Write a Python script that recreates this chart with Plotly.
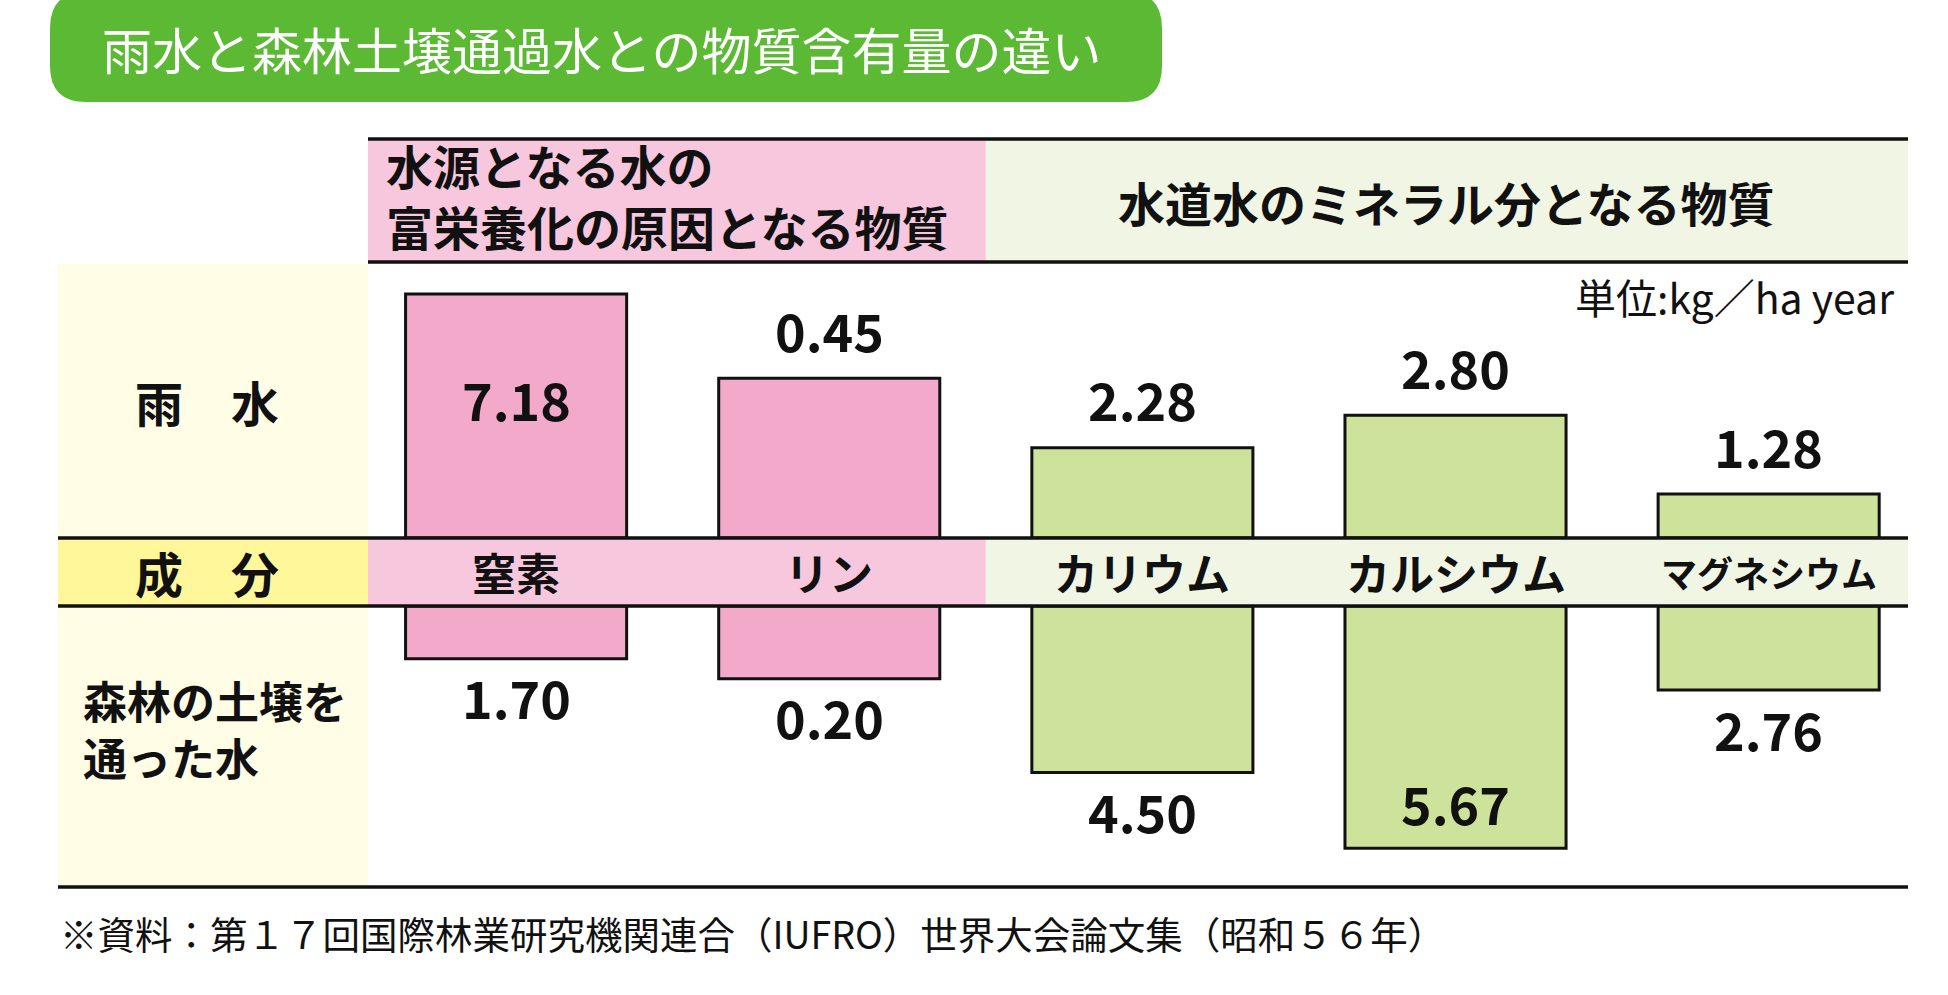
import plotly.graph_objects as go

# 単位: kg/ha year
components = ['窒素', 'リン', 'カリウム', 'カルシウム', 'マグネシウム']
rain = [7.18, 0.45, 2.28, 2.80, 1.28]      # 雨水
forest = [1.70, 0.20, 4.50, 5.67, 2.76]    # 森林の土壌を通った水
group_of = [0, 0, 1, 1, 1]
group_names = ['水源となる水の<br>富栄養化の原因となる物質', '水道水のミネラル分となる物質']

title = '雨水と森林土壌通過水との物質含有量の違い'
unit = '単位:kg／ha year'
source = '※資料：第１７回国際林業研究機関連合（IUFRO）世界大会論文集（昭和５６年）'
row_rain = '雨　水'
row_comp = '成　分'
row_forest = '森林の土壌を<br>通った水'

W, H = 1948, 995
FONT = 'Noto Sans CJK JP'
bar_colors = ['#f2a9ca', '#cde29b']
band_colors = ['#f7c7dd', '#f0f5e4']
LINE = '#111111'


def px(x):
    return x / W


def py(y):
    return 1 - y / H


def rounded_rect(x0, y0, x1, y1, r):
    pts = [('M', x0 + r, y0), ('L', x1 - r, y0), ('Q', x1, y0, x1, y0 + r),
           ('L', x1, y1 - r), ('Q', x1, y1, x1 - r, y1), ('L', x0 + r, y1),
           ('Q', x0, y1, x0, y1 - r), ('L', x0, y0 + r), ('Q', x0, y0, x0 + r, y0)]
    out = []
    for p in pts:
        cmd, coords = p[0], p[1:]
        xy = []
        for j in range(0, len(coords), 2):
            xy.append(f'{px(coords[j]):.5f},{py(coords[j + 1]):.5f}')
        out.append(cmd + ' ' + ' '.join(xy))
    return ' '.join(out) + ' Z'


# 軸設定（各成分ごとに縦の縮尺が違う）
X_RANGE = [-0.473, 4.445]
x_dom = [px(368), px(1908)]
top_dom = [py(538), py(261)]
bot_dom = [py(887), py(606)]
rain_axis_max = [8.15, 0.78, 6.99, 6.32, 8.06]
forest_axis_max = [9.07, 0.773, 7.60, 6.58, 9.23]

fig = go.Figure()
for i, name in enumerate(components):
    col = bar_colors[group_of[i]]
    fig.add_trace(go.Bar(
        x=[name], y=[rain[i]], xaxis='x', yaxis='y' if i == 0 else f'y{i + 1}',
        width=0.706, marker=dict(color=col, line=dict(color=LINE, width=3)),
        hoverinfo='skip'))
    fig.add_trace(go.Bar(
        x=[name], y=[forest[i]], xaxis='x2', yaxis=f'y{i + 6}',
        width=0.706, marker=dict(color=col, line=dict(color=LINE, width=3)),
        hoverinfo='skip'))

layout = dict(
    width=W, height=H, margin=dict(l=0, r=0, t=0, b=0),
    paper_bgcolor='white', plot_bgcolor='rgba(0,0,0,0)',
    showlegend=False, barmode='overlay',
    font=dict(family=FONT, color='#111111'),
)
xcommon = dict(domain=x_dom, range=X_RANGE, type='category', categoryorder='array',
               categoryarray=components, visible=False, fixedrange=True)
layout['xaxis'] = dict(xcommon, anchor='y')
layout['xaxis2'] = dict(xcommon, anchor='y6')
layout['yaxis'] = dict(domain=top_dom, range=[0, rain_axis_max[0]], visible=False,
                       anchor='x', fixedrange=True)
for k in range(2, 6):
    layout[f'yaxis{k}'] = dict(overlaying='y', range=[0, rain_axis_max[k - 1]],
                               visible=False, anchor='x', fixedrange=True)
layout['yaxis6'] = dict(domain=bot_dom, range=[forest_axis_max[0], 0], visible=False,
                        anchor='x2', fixedrange=True)
for k in range(7, 11):
    layout[f'yaxis{k}'] = dict(overlaying='y6', range=[forest_axis_max[k - 6], 0],
                               visible=False, anchor='x2', fixedrange=True)
fig.update_layout(layout)

# 背景・罫線
shapes = [
    dict(type='path', path=rounded_rect(50, -8, 1162, 102, 36), xref='paper', yref='paper',
         fillcolor='#5bb934', line=dict(width=0), layer='below'),
    dict(type='rect', xref='x', yref='paper', x0=X_RANGE[0], x1=1.5, y0=py(262), y1=py(139),
         fillcolor=band_colors[0], line=dict(width=0), layer='below'),
    dict(type='rect', xref='x', yref='paper', x0=1.5, x1=X_RANGE[1], y0=py(262), y1=py(139),
         fillcolor=band_colors[1], line=dict(width=0), layer='below'),
    dict(type='rect', xref='paper', yref='paper', x0=px(58), x1=px(368), y0=py(887), y1=py(264),
         fillcolor='#fffde6', line=dict(width=0), layer='below'),
    dict(type='rect', xref='paper', yref='paper', x0=px(58), x1=px(368), y0=py(606), y1=py(538),
         fillcolor='#fff799', line=dict(width=0), layer='below'),
    dict(type='rect', xref='x', yref='paper', x0=X_RANGE[0], x1=1.5, y0=py(606), y1=py(538),
         fillcolor=band_colors[0], line=dict(width=0), layer='below'),
    dict(type='rect', xref='x', yref='paper', x0=1.5, x1=X_RANGE[1], y0=py(606), y1=py(538),
         fillcolor=band_colors[1], line=dict(width=0), layer='below'),
]
for (xa, xb, yy) in [(368, 1908, 139), (368, 1908, 262), (58, 1908, 538),
                     (58, 1908, 606), (58, 1908, 887)]:
    shapes.append(dict(type='line', xref='paper', yref='paper', x0=px(xa), x1=px(xb),
                       y0=py(yy), y1=py(yy), line=dict(color=LINE, width=3.5), layer='above'))

ann = []
# 数値ラベル（上段は棒の上、下段は棒の下。枠に収まらないものは棒の中）
for i in range(len(components)):
    inside = rain[i] / rain_axis_max[i] > 0.8
    ann.append(dict(x=components[i], y=rain[i], xref='x', yref='y' if i == 0 else f'y{i + 1}',
                    text=f'{rain[i]:.2f}', showarrow=False, yanchor='middle',
                    yshift=-105 if inside else 49, font=dict(size=52, weight='bold')))
    inside = forest[i] / forest_axis_max[i] > 0.8
    ann.append(dict(x=components[i], y=forest[i], xref='x2', yref=f'y{i + 6}',
                    text=f'{forest[i]:.2f}', showarrow=False, yanchor='middle',
                    yshift=46 if inside else -38, font=dict(size=52, weight='bold')))
# 成分名
for name in components:
    ann.append(dict(x=name, y=py(572), xref='x', yref='paper', text=name, showarrow=False,
                    xanchor='center', yanchor='middle',
                    font=dict(size=44 if len(name) <= 5 else 36, weight='bold')))
# 見出し
ann += [
    dict(x=px(100), y=py(48), xref='paper', yref='paper', text=title, showarrow=False,
         xanchor='left', yanchor='middle', font=dict(size=50, color='white')),
    dict(x=px(384), y=py(195), xref='paper', yref='paper', text=group_names[0], showarrow=False,
         xanchor='left', yanchor='middle', align='left', font=dict(size=47, weight='bold')),
    dict(x=(1.5 + X_RANGE[1]) / 2, y=py(201), xref='x', yref='paper', text=group_names[1],
         showarrow=False, xanchor='center', yanchor='middle', font=dict(size=47, weight='bold')),
    dict(x=px(1896), y=py(296), xref='paper', yref='paper', text=unit, showarrow=False,
         xanchor='right', yanchor='middle', font=dict(size=41)),
    dict(x=px(207), y=py(401), xref='paper', yref='paper', text=row_rain, showarrow=False,
         xanchor='center', yanchor='middle', font=dict(size=48, weight='bold')),
    dict(x=px(207), y=py(572), xref='paper', yref='paper', text=row_comp, showarrow=False,
         xanchor='center', yanchor='middle', font=dict(size=48, weight='bold')),
    dict(x=px(81), y=py(728), xref='paper', yref='paper', text=row_forest, showarrow=False,
         xanchor='left', yanchor='middle', align='left', font=dict(size=44, weight='bold')),
    dict(x=px(58), y=py(932), xref='paper', yref='paper', text=source, showarrow=False,
         xanchor='left', yanchor='middle', font=dict(size=37.5)),
]

fig.update_layout(shapes=shapes, annotations=ann)
fig.write_html('out.html', config={'displayModeBar': False},
               post_script="document.body.style.margin='0';"
                           "document.body.style.overflow='hidden';")
